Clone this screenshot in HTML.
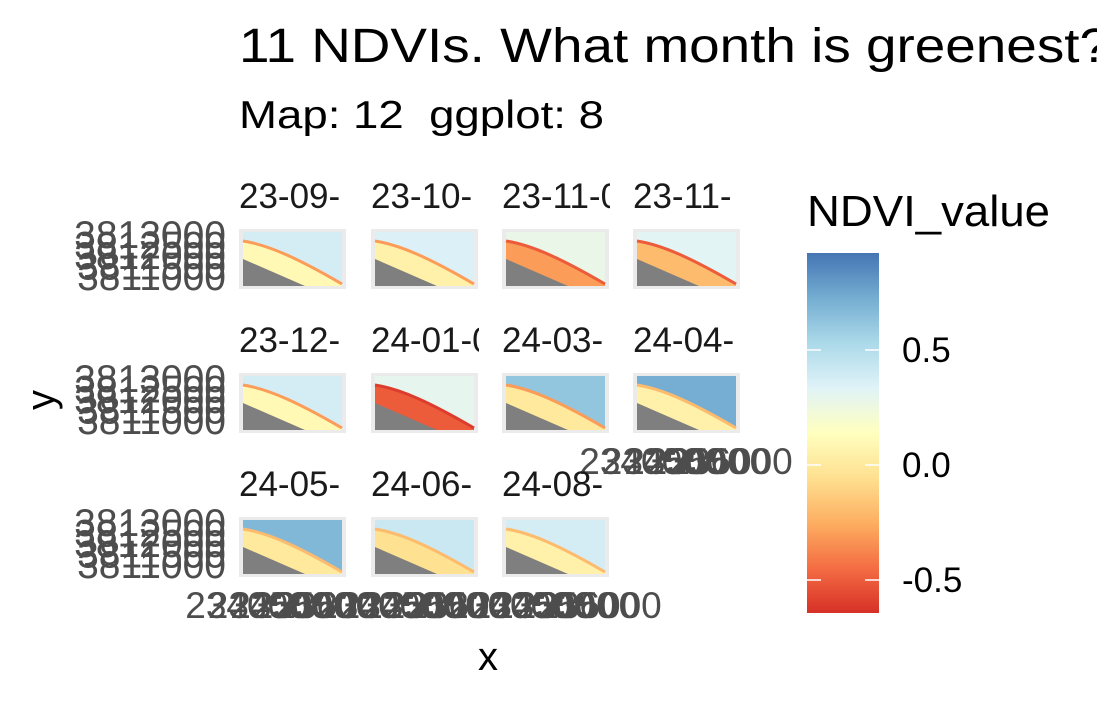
<!DOCTYPE html>
<html><head><meta charset="utf-8"><style>
body{margin:0;background:#fff;}
svg text{font-family:"Liberation Sans",sans-serif;}
</style></head><body>
<svg id="chart" width="1097" height="702" viewBox="0 0 1097 702" xmlns="http://www.w3.org/2000/svg">
<defs>
<linearGradient id="cbar" x1="0" y1="1" x2="0" y2="0">
<stop offset="0" stop-color="#d73027"/><stop offset="0.125" stop-color="#f46d43"/><stop offset="0.25" stop-color="#fdae61"/><stop offset="0.375" stop-color="#fee090"/><stop offset="0.5" stop-color="#ffffbf"/><stop offset="0.625" stop-color="#e0f3f8"/><stop offset="0.75" stop-color="#abd9e9"/><stop offset="0.875" stop-color="#74add1"/><stop offset="1" stop-color="#4575b4"/>
</linearGradient>
</defs>
<text x="239" y="62" font-size="48" textLength="871" lengthAdjust="spacingAndGlyphs" fill="#000">11 NDVIs. What month is greenest?</text>
<text x="239" y="128" font-size="39" textLength="365" lengthAdjust="spacingAndGlyphs" fill="#000" xml:space="preserve">Map: 12  ggplot: 8</text>
<text transform="translate(54,400) rotate(-90)" text-anchor="middle" font-size="40" fill="#000">y</text>
<text x="488" y="670" text-anchor="middle" font-size="40" fill="#000">x</text>
<text x="807" y="226" font-size="44" textLength="243" lengthAdjust="spacingAndGlyphs" fill="#000">NDVI_value</text>
<rect x="807" y="253" width="72" height="360" fill="url(#cbar)"/>
<g id="panels"></g>
<g id="legend"></g>
</svg>
<script>
const labels=["23-09-","23-10-","23-11-0","23-11-","23-12-","24-01-0","24-03-","24-04-","24-05-","24-06-","24-08-"];
const topVals=[0.38,0.35,0.28,0.32,0.38,0.30,0.62,0.72,0.68,0.42,0.38];
const midVals=[0.10,0.05,-0.30,-0.20,0.10,-0.50,0.00,0.05,0.00,-0.05,0.05];
const bandVals=[-0.30,-0.30,-0.50,-0.50,-0.30,-0.60,-0.30,-0.20,-0.20,-0.20,-0.20];
const yTicks=["3813000","3812500","3812000","3811500","3811000"];
const xTicks=["234000","234500","235000","235500","236000"];
const legendTicks=[0.5,0.0,-0.5];
const NS="http://www.w3.org/2000/svg";
const vmin=-0.64,vmax=0.92;
const stops=["#d73027","#f46d43","#fdae61","#fee090","#ffffbf","#e0f3f8","#abd9e9","#74add1","#4575b4"];
function hex(c){return [1,3,5].map(i=>parseInt(c.substr(i,2),16));}
function col(v){let t=(v-vmin)/(vmax-vmin);t=Math.max(0,Math.min(1,t))*8;const i=Math.min(7,Math.floor(t)),f=t-i;const a=hex(stops[i]),b=hex(stops[i+1]);return "rgb("+a.map((x,k)=>Math.round(x+(b[k]-x)*f)).join(",")+")";}
function legendY(v){return 465-v*230;}
function mk(tag,attrs,parent){const e=document.createElementNS(NS,tag);for(const k in attrs)e.setAttribute(k,attrs[k]);parent.appendChild(e);return e;}
const P=document.getElementById("panels");
const colX=[239,371,502,633],rowY=[229,373,517],stripY=[208,352,496];
labels.forEach((lab,i)=>{
 const c=i%4,r=Math.floor(i/4),x0=colX[c],y0=rowY[r];
 const g=mk("g",{transform:`translate(${x0},${y0})`},P);
 
 
 mk("rect",{x:0,y:0,width:107,height:60,fill:"#ebebeb"},g);
 mk("path",{d:"M4,3 H103 V55 C60,30 30,16 4,12 Z",fill:col(topVals[i])},g);
 mk("path",{d:"M4,12 C30,16 60,30 103,55 V57 H4 Z",fill:col(midVals[i])},g);
 mk("path",{d:"M4,12 C30,16 60,30 103,55",fill:"none",stroke:col(bandVals[i]),"stroke-width":3},g);
 mk("path",{d:"M4,30 L66,57 H4 Z",fill:"#7f7f7f"},g);
 const sv=mk("svg",{x:x0,y:stripY[r]-40,width:108,height:50,overflow:"hidden"},P);
 const t=mk("text",{x:0,y:40,"font-size":35,fill:"#1a1a1a"},sv);
 
 
 t.textContent=lab;
 if(c===0){yTicks.forEach((yt,k)=>{const tt=mk("text",{x:226,y:y0+19+k*10.5,"font-size":39,"text-anchor":"end",fill:"#4d4d4d"},P);
  
  
  tt.textContent=yt;});}
 const bottom=(r===2)||(r===1&&c===3);
 if(bottom){xTicks.forEach((xt,k)=>{const tt=mk("text",{x:x0+53+(k-2)*22.5,y:y0+101,"font-size":37,"text-anchor":"middle",fill:"#4d4d4d"},P);
  
  
  tt.textContent=xt;});}
});
const L=document.getElementById("legend");
legendTicks.forEach(v=>{const y=legendY(v);
 const a=mk("line",{x1:807,x2:821,y1:y,y2:y,stroke:"#fff","stroke-width":1.5},L);
 
 
 const b=mk("line",{x1:865,x2:879,y1:y,y2:y,stroke:"#fff","stroke-width":1.5},L);
 
 
 const t=mk("text",{x:902,y:y+12,"font-size":35,fill:"#000"},L);
 
 
 t.textContent=v.toFixed(1);});
</script>
</body></html>
